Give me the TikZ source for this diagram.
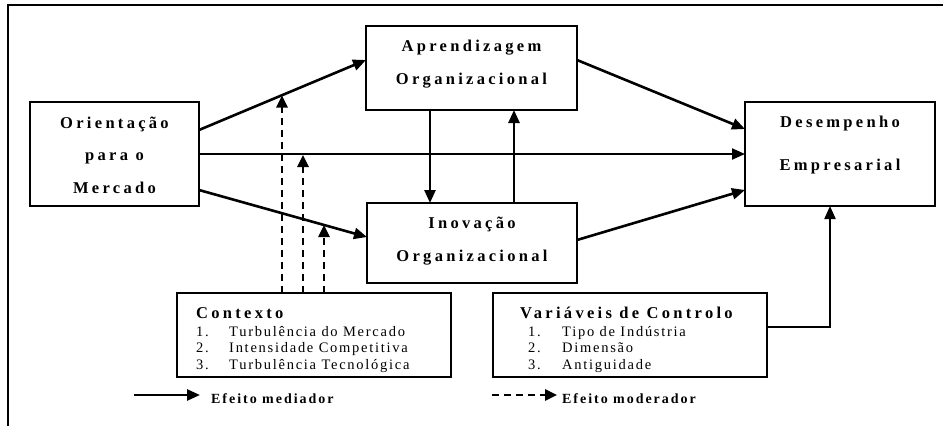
\documentclass[tikz,border=0pt]{standalone}
\usepackage{fontspec}
\setmainfont{Liberation Serif}
\newfontfamily\titlefont[LetterSpace=20]{Liberation Serif}
\newfontfamily\listfont[LetterSpace=12]{Liberation Serif}
\newfontfamily\legfont[LetterSpace=14]{Liberation Serif}
\usetikzlibrary{arrows.meta}
\tikzset{
  box/.style={draw, line width=2.2pt, inner sep=0pt, outer sep=0pt, anchor=center},
  bigtxt/.style={inner sep=0pt, anchor=base, font=\titlefont\bfseries\fontsize{16.5}{19}\selectfont},
  headtxt/.style={inner sep=0pt, anchor=base west, font=\titlefont\bfseries\fontsize{16.5}{19}\selectfont},
  listtxt/.style={inner sep=0pt, anchor=base west, font=\listfont\fontsize{14.5}{16}\selectfont},
  legtxt/.style={inner sep=0pt, anchor=base west, font=\legfont\bfseries\fontsize{14}{16}\selectfont},
  arr/.style={line width=2.6pt, -{Triangle[length=13pt,width=11pt]}},
  thinarr/.style={line width=2pt, -{Triangle[length=13pt,width=11pt]}},
  dasharr/.style={line width=2.5pt, dash pattern=on 7pt off 5pt, -{Triangle[length=12pt,width=11pt]}},
  frameline/.style={line width=2.2pt}
}
\begin{document}
\begin{tikzpicture}[x=1pt,y=-1pt]
\useasboundingbox (0,0) rectangle (943,426);
% frame
\coordinate (fa) at (8,426);
\coordinate (fb) at (8,5);
\coordinate (fc) at (943,5);
\draw[frameline] (fa) -- (fb) -- (fc);

% boxes
\node[box, minimum width=169pt, minimum height=104pt] (om) at (114.5,154) {};
\node[box, minimum width=211pt, minimum height=84pt] (ao) at (471.5,68) {};
\node[box, minimum width=190pt, minimum height=104pt] (de) at (840,154) {};
\node[box, minimum width=210pt, minimum height=80pt] (io) at (472,243) {};
\node[box, minimum width=274pt, minimum height=84pt] (ct) at (314,335) {};
\node[box, minimum width=274pt, minimum height=84pt] (vc) at (630,335) {};

% box texts
\node[bigtxt] (om1) at (114.5,128) {Orientação};
\node[bigtxt] (om2) at (114.5,160) {para o};
\node[bigtxt] (om3) at (114.5,193) {Mercado};
\node[bigtxt] (ao1) at (471.5,51) {Aprendizagem};
\node[bigtxt] (ao2) at (471.5,84) {Organizacional};
\node[bigtxt] (de1) at (840,127) {Desempenho};
\node[bigtxt] (de2) at (840,170) {Empresarial};
\node[bigtxt] (io1) at (472,228) {Inovação};
\node[bigtxt] (io2) at (472,261) {Organizacional};

\node[headtxt] (ct0) at (196,318) {Contexto};
\node[listtxt] (ct1n) at (196,336) {1.};
\node[listtxt] (ct1) at (229,336) {Turbulência do Mercado};
\node[listtxt] (ct2n) at (196,352.5) {2.};
\node[listtxt] (ct2) at (229,352.5) {Intensidade Competitiva};
\node[listtxt] (ct3n) at (196,369) {3.};
\node[listtxt] (ct3) at (229,369) {Turbulência Tecnológica};

\node[headtxt] (vc0) at (520,318) {Variáveis de Controlo};
\node[listtxt] (vc1n) at (528,336) {1.};
\node[listtxt] (vc1) at (562,336) {Tipo de Indústria};
\node[listtxt] (vc2n) at (528,352.5) {2.};
\node[listtxt] (vc2) at (562,352.5) {Dimensão};
\node[listtxt] (vc3n) at (528,369) {3.};
\node[listtxt] (vc3) at (562,369) {Antiguidade};

% mediating arrows
\draw[arr] ([yshift=24pt]om.east) -- ([yshift=8pt]ao.west);
\draw[thinarr] (om.east) -- (de.west);
\draw[arr] ([yshift=-36pt]om.east) -- ([yshift=6pt]io.west);
\draw[arr] ([yshift=8pt]ao.east) -- ([yshift=25pt]de.west);
\draw[arr] ([yshift=3pt]io.east) -- ([yshift=-36pt]de.west);
\draw[arr] ([xshift=-41.5pt]ao.south) -- ([xshift=-41.5pt]ao.south |- io.north);
\draw[arr] ([xshift=42pt]io.north) -- ([xshift=42pt]io.north |- ao.south);
\draw[thinarr] ([yshift=8pt]vc.east) -| ([xshift=-10pt]de.south);

% moderating arrows
\coordinate (m1) at (282,95.5);
\coordinate (m2) at (303,155);
\coordinate (m3) at (324,225);
\draw[dasharr] (m1 |- ct.north) -- (m1);
\draw[dasharr] (m2 |- ct.north) -- (m2);
\draw[dasharr] (m3 |- ct.north) -- (m3);

% legend
\coordinate (l1a) at (134,395);
\coordinate (l1b) at (200,395);
\draw[arr] (l1a) -- (l1b);
\node[legtxt] (lt1) at (211,403) {Efeito mediador};
\coordinate (l2a) at (492,395);
\coordinate (l2b) at (557,395);
\draw[dasharr] (l2a) -- (l2b);
\node[legtxt] (lt2) at (562,403) {Efeito moderador};
\end{tikzpicture}
\end{document}
